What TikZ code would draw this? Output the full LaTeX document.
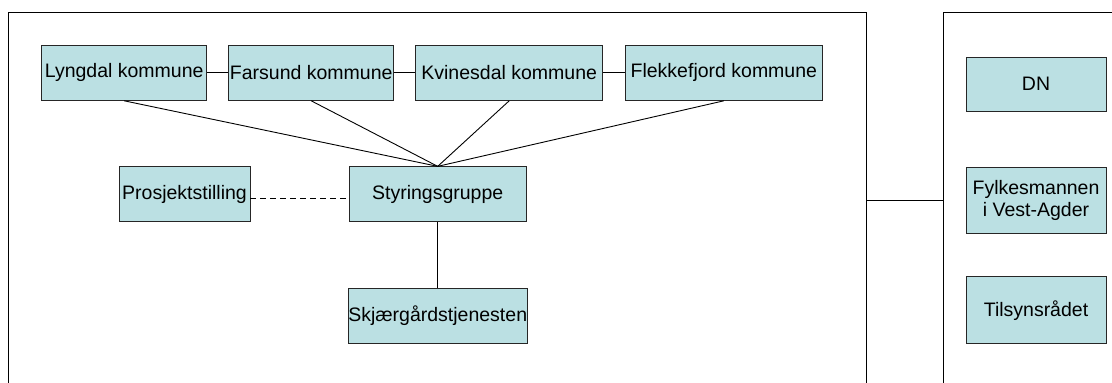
\documentclass[tikz,border=0pt]{standalone}
\usepackage{fontspec}
\setmainfont{Liberation Sans}
\definecolor{boxfill}{RGB}{187,224,227}
\begin{document}
\begin{tikzpicture}[x=1pt,y=-1pt,
  orgbox/.style={draw=black!85, line width=0.9pt, fill=boxfill, inner sep=0pt,
    font=\fontsize{19.5}{22}\selectfont, align=center, minimum height=55pt},
  link/.style={line width=0.9pt, black}]
\useasboundingbox (0,0) rectangle (1112,383);
% frames
\draw[line width=1pt] (8,383) -- (8,12.7) -- (866.7,12.7) -- (866.7,383);
\draw[line width=1pt] (943.3,383) -- (943.3,12.7) -- (1113,12.7);
\coordinate (lf) at (866.7,200);
\coordinate (rf) at (943.3,200);
% nodes
\node[orgbox, minimum width=165pt] (ly) at (124.2,72.85) {Lyngdal kommune};
\node[orgbox, minimum width=165pt] (fa) at (311.2,72.85) {Farsund kommune};
\node[orgbox, minimum width=187pt] (kv) at (509.2,72.85) {Kvinesdal kommune};
\node[orgbox, minimum width=197.7pt] (fl) at (723.85,72.85) {Flekkefjord kommune};
\node[orgbox, minimum width=176.7pt] (st) at (437.7,194.3) {Styringsgruppe};
\node[orgbox, minimum width=176.7pt] (sk) at (437.7,315.7) {Skjærgårdstjenesten};
\node[orgbox, minimum width=131pt] (pr) at (184.5,194.3) {Prosjektstilling};
\node[orgbox, minimum width=140pt, minimum height=54pt] (dn) at (1036,84) {DN};
\node[orgbox, minimum width=140pt, minimum height=66pt] (fy) at (1036,200) {Fylkesmannen\\i Vest-Agder};
\node[orgbox, minimum width=140pt, minimum height=67pt] (ti) at (1036,310.3) {Tilsynsrådet};
% connectors
\draw[link] (ly) -- (fa);
\draw[link] (fa) -- (kv);
\draw[link] (kv) -- (fl);
\draw[link] (ly.south) -- (st.north);
\draw[link] (fa.south) -- (st.north);
\draw[link] (kv.south) -- (st.north);
\draw[link] (fl.south) -- (st.north);
\draw[link] (st) -- (sk);
\draw[link, dash pattern=on 6pt off 4pt] ([yshift=-4.5pt]pr.east) -- ([yshift=-4.5pt]st.west);
\draw[link] (lf) -- (rf);
\end{tikzpicture}
\end{document}
